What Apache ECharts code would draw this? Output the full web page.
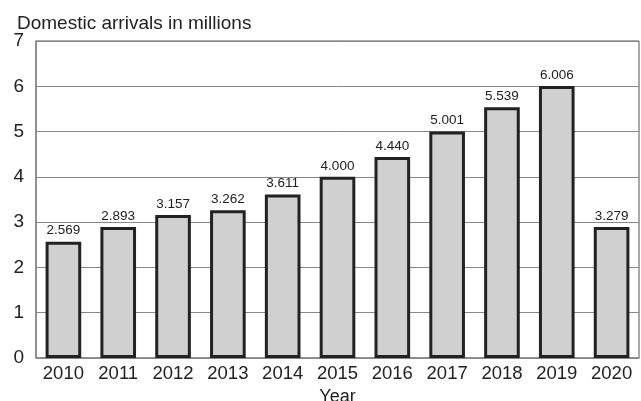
<!DOCTYPE html>
<html><head><meta charset="utf-8">
<script src="https://cdn.jsdelivr.net/npm/echarts@6/dist/echarts.min.js"></script>
<style>html,body{margin:0;padding:0;background:#fff}#c{width:641px;height:401px}</style>
</head><body><div id="c"></div>
<script>
const years = ['2010','2011','2012','2013','2014','2015','2016','2017','2018','2019','2020'];
const barValues = [2.569, 2.893, 3.157, 3.262, 3.611, 4.000, 4.440, 5.001, 5.539, 6.006, 2.89];
const labelTexts = ['2.569','2.893','3.157','3.262','3.611','4.000','4.440','5.001','5.539','6.006','3.279'];
const yTicks = [0,1,2,3,4,5,6,7];

const chart = echarts.init(document.getElementById('c'), null, {renderer:'canvas'});
const font = 'Liberation Sans, Arial, sans-serif';
chart.setOption({
  animation:false,
  title:{text:'Domestic arrivals in millions', left:12, top:9,
    textStyle:{fontFamily:font, fontSize:19, fontWeight:'normal', color:'#222'}},
  grid:{left:36, right:2, top:41, bottom:43, show:true, borderColor:'#555', borderWidth:1,
    outerBoundsMode:'none', containLabel:false},
  xAxis:{type:'category', data:years, name:'Year', nameLocation:'middle', nameGap:28,
    nameTextStyle:{fontFamily:font, fontSize:18, color:'#222', verticalAlign:'top'},
    axisLine:{lineStyle:{color:'#888', width:1.5}}, axisTick:{show:false},
    axisLabel:{fontFamily:font, fontSize:18.5, color:'#222', margin:6, interval:0, hideOverlap:false}},
  yAxis:{type:'value', min:0, max:7, interval:1,
    axisLine:{show:true, lineStyle:{color:'#888', width:1.5}}, axisTick:{show:false},
    axisLabel:{fontFamily:font, fontSize:19, color:'#222', margin:12,
      formatter:v=>yTicks.includes(v)?String(v):''},
    splitLine:{lineStyle:{color:'#888', width:1}}},
  series:[{type:'bar', data:barValues, barWidth:'65%',
    itemStyle:{color:'#d0d0d0', borderColor:'#222', borderWidth:3},
    label:{show:true, position:'top', distance:4, fontFamily:font, fontSize:13.5, color:'#222',
      formatter:p=>labelTexts[p.dataIndex]}}]
});
</script></body></html>
